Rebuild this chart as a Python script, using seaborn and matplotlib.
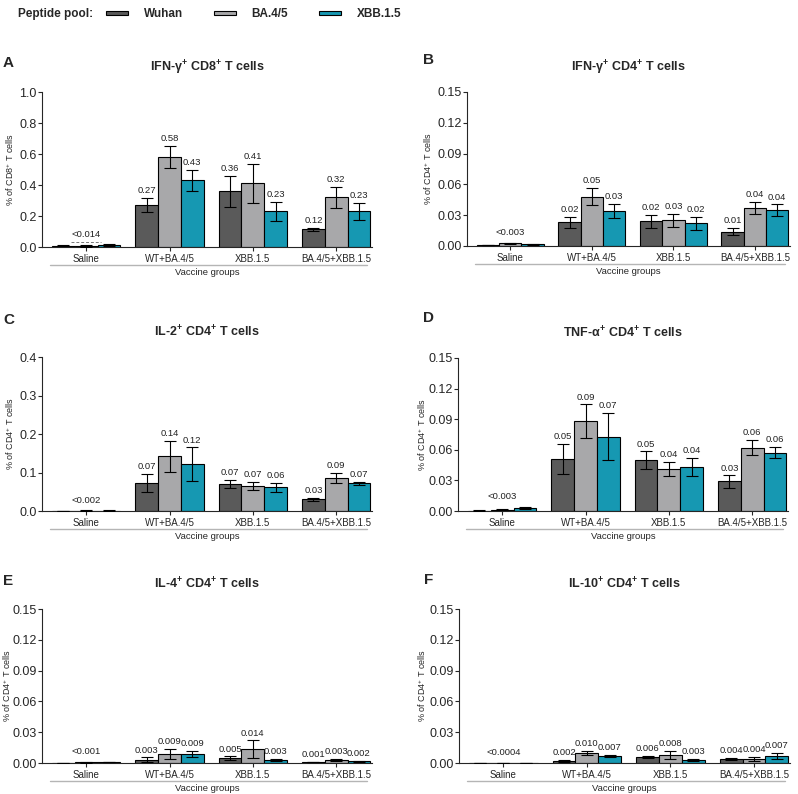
import numpy as np
import pandas as pd
import matplotlib
matplotlib.use("Agg")
import matplotlib.pyplot as plt
from matplotlib.patches import Patch
import seaborn as sns

sns.set_style("ticks")
plt.rcParams['font.family'] = ['Liberation Sans', 'DejaVu Sans']
plt.rcParams['mathtext.fontset'] = 'custom'
plt.rcParams['mathtext.rm'] = 'Liberation Sans'
plt.rcParams['mathtext.bf'] = 'Liberation Sans:bold'
plt.rcParams['mathtext.default'] = 'regular'

groups = ["Saline", "WT+BA.4/5", "XBB.1.5", "BA.4/5+XBB.1.5"]
pools = ["Wuhan", "BA.4/5", "XBB.1.5"]
pool_colors = ["#5a5a5a", "#a8a8aa", "#1698b2"]

# values per group (rows) x peptide pool (cols)
ifng_cd8_mean = [[0.008, 0.006, 0.013], [0.27, 0.58, 0.43], [0.36, 0.41, 0.23], [0.115, 0.32, 0.23]]
ifng_cd8_err = [[0.004, 0.004, 0.005], [0.045, 0.072, 0.07], [0.10, 0.127, 0.063], [0.01, 0.067, 0.056]]
ifng_cd8_lbl = [["", "", ""], ["0.27", "0.58", "0.43"], ["0.36", "0.41", "0.23"], ["0.12", "0.32", "0.23"]]

ifng_cd4_mean = [[0.0008, 0.0025, 0.0015], [0.023, 0.048, 0.034], [0.024, 0.025, 0.022], [0.014, 0.037, 0.035]]
ifng_cd4_err = [[0.0003, 0.0006, 0.0004], [0.0055, 0.0085, 0.007], [0.0065, 0.0065, 0.0065], [0.0035, 0.006, 0.0055]]
ifng_cd4_lbl = [["", "", ""], ["0.02", "0.05", "0.03"], ["0.02", "0.03", "0.02"], ["0.01", "0.04", "0.04"]]

il2_cd4_mean = [[0.0005, 0.001, 0.001], [0.073, 0.142, 0.121], [0.070, 0.065, 0.062], [0.030, 0.085, 0.072]]
il2_cd4_err = [[0.0002, 0.0004, 0.0003], [0.024, 0.041, 0.044], [0.011, 0.011, 0.012], [0.005, 0.013, 0.004]]
il2_cd4_lbl = [["", "", ""], ["0.07", "0.14", "0.12"], ["0.07", "0.07", "0.06"], ["0.03", "0.09", "0.07"]]

tnfa_cd4_mean = [[0.0004, 0.0012, 0.003], [0.051, 0.088, 0.073], [0.050, 0.041, 0.043], [0.029, 0.062, 0.057]]
tnfa_cd4_err = [[0.0002, 0.0005, 0.001], [0.015, 0.0165, 0.023], [0.0085, 0.007, 0.009], [0.006, 0.0075, 0.0055]]
tnfa_cd4_lbl = [["", "", ""], ["0.05", "0.09", "0.07"], ["0.05", "0.04", "0.04"], ["0.03", "0.06", "0.06"]]

il4_cd4_mean = [[0.0002, 0.0008, 0.0008], [0.003, 0.0085, 0.0085], [0.0045, 0.0135, 0.003], [0.0008, 0.003, 0.0015]]
il4_cd4_err = [[0.0001, 0.0004, 0.0003], [0.0025, 0.005, 0.003], [0.002, 0.0085, 0.001], [0.0003, 0.0012, 0.0005]]
il4_cd4_lbl = [["", "", ""], ["0.003", "0.009", "0.009"], ["0.005", "0.014", "0.003"], ["0.001", "0.003", "0.002"]]

il10_cd4_mean = [[0.0001, 0.0001, 0.0003], [0.002, 0.0095, 0.0068], [0.0058, 0.008, 0.003], [0.0038, 0.004, 0.007]]
il10_cd4_err = [[0.0, 0.0, 0.0001], [0.001, 0.002, 0.0013], [0.001, 0.004, 0.0008], [0.001, 0.002, 0.003]]
il10_cd4_lbl = [["", "", ""], ["0.002", "0.010", "0.007"], ["0.006", "0.008", "0.003"], ["0.004", "0.004", "0.007"]]

panel_letters = ["A", "B", "C", "D", "E", "F"]
panel_titles = [r"IFN-γ$^\mathbf{+}$ CD8$^\mathbf{+}$ T cells", r"IFN-γ$^\mathbf{+}$ CD4$^\mathbf{+}$ T cells",
                r"IL-2$^\mathbf{+}$ CD4$^\mathbf{+}$ T cells", r"TNF-α$^\mathbf{+}$ CD4$^\mathbf{+}$ T cells",
                r"IL-4$^\mathbf{+}$ CD4$^\mathbf{+}$ T cells", r"IL-10$^\mathbf{+}$ CD4$^\mathbf{+}$ T cells"]
y_labels = ["% of CD8$^{+}$ T cells"] + ["% of CD4$^{+}$ T cells"] * 5
y_max = [1.0, 0.15, 0.4, 0.15, 0.15, 0.15]
y_step = [0.2, 0.03, 0.1, 0.03, 0.03, 0.03]
saline_lbl = ["<0.014", "<0.003", "<0.002", "<0.003", "<0.001", "<0.0004"]

means = [ifng_cd8_mean, ifng_cd4_mean, il2_cd4_mean, tnfa_cd4_mean, il4_cd4_mean, il10_cd4_mean]
errs = [ifng_cd8_err, ifng_cd4_err, il2_cd4_err, tnfa_cd4_err, il4_cd4_err, il10_cd4_err]
lbls = [ifng_cd8_lbl, ifng_cd4_lbl, il2_cd4_lbl, tnfa_cd4_lbl, il4_cd4_lbl, il10_cd4_lbl]

W, H = 798, 794
fig = plt.figure(figsize=(W / 100, H / 100), dpi=100)

# axes boxes in pixels: left, bottom(px from top), width, height
boxes = [(42, 247, 330, 155), (467, 246, 323, 154),
         (42, 511, 330, 154), (458, 511, 330, 153),
         (42, 763, 330, 154), (459, 763, 331, 154)]
letter_pos = [(3, 63), (423, 60), (3, 320), (423, 318), (3, 581), (424, 580)]
ylabel_px = [12, 430, 12, 424, 9, 424]

for i in range(6):
    l, b, w, h = boxes[i]
    ax = fig.add_axes([l / W, 1 - b / H, w / W, h / H])

    m = np.array(means[i])
    e = np.array(errs[i])
    df = pd.DataFrame({
        "group": np.repeat(groups, 3),
        "pool": pools * 4,
        "value": m.ravel(),
    })
    sns.barplot(data=df, x="group", y="value", hue="pool", order=groups, hue_order=pools,
                palette=pool_colors, edgecolor="black", linewidth=0.8, errorbar=None,
                width=0.82, saturation=1, legend=False, ax=ax)

    bar_sets = list(ax.containers)
    for j, cont in enumerate(bar_sets):
        xs = [p.get_x() + p.get_width() / 2 for p in cont]
        hs = [p.get_height() for p in cont]
        ax.errorbar(xs, hs, yerr=e[:, j], fmt="none", ecolor="black", elinewidth=0.8,
                    capsize=4.5, capthick=0.8, zorder=5)
        for k, (x, hh) in enumerate(zip(xs, hs)):
            if lbls[i][k][j]:
                ax.annotate(lbls[i][k][j], (x, hh + e[k, j]), xytext=(0, 2),
                            textcoords="offset points", ha="center", va="bottom",
                            fontsize=6.8, color="#222222")

    # saline label and group bracket
    top = (m[0] + e[0]).max()
    ax.annotate(saline_lbl[i], (0, top), xytext=(0, 4), textcoords="offset points",
                ha="center", va="bottom", fontsize=6.8, color="#222222")
    if i == 0:
        ax.hlines(0.03, -0.18, 0.18, colors="#777777", linestyles=(0, (3, 2)), linewidth=0.7)

    ax.set_xlim(-0.53, 3.43)
    ax.set_ylim(0, y_max[i])
    ax.set_yticks(np.arange(0, y_max[i] + y_step[i] / 2, y_step[i]))
    ax.set_xlabel("")
    ax.set_ylabel(y_labels[i], fontsize=6.5)
    ax.yaxis.set_label_coords((ylabel_px[i] + 4 - l) / w, 0.5)
    ax.tick_params(axis="y", labelsize=9, length=3, width=0.8, pad=1)
    ax.tick_params(axis="x", labelsize=7, length=3, width=0.8, pad=2)
    for s in ["left", "bottom"]:
        ax.spines[s].set_linewidth(0.8)
    sns.despine(ax=ax)

    ax.plot([0.025, 0.985], [-0.118, -0.118], transform=ax.transAxes, clip_on=False,
            color="#b5b5b5", lw=1.0)
    ax.text(0.5, -0.135, "Vaccine groups", transform=ax.transAxes, ha="center", va="top",
            fontsize=6.8)
    ax.set_title(panel_titles[i], fontsize=9, fontweight="bold", pad=15)

    lx, ly = letter_pos[i]
    fig.text(lx / W, 1 - ly / H, panel_letters[i], fontsize=11, fontweight="bold",
             ha="left", va="center")

# legend on top
fig.text(18 / W, 1 - 14 / H, "Peptide pool:", fontsize=8.5, fontweight="bold", va="center")
handles = [Patch(facecolor=c, edgecolor="black", linewidth=0.8) for c in pool_colors]
fig.legend(handles, pools, loc="center left", bbox_to_anchor=(106 / W, 1 - 14 / H), ncol=3,
           frameon=False, handlelength=1.9, handleheight=0.2, handletextpad=1.3,
           columnspacing=2.6, borderpad=0, borderaxespad=0,
           prop={"weight": "bold", "size": 8.5})

fig.savefig("out.png", dpi=100)
